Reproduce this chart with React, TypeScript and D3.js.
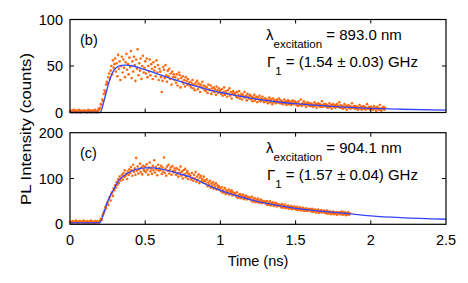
import React from "react";
import * as d3 from "d3";

// time grid of the measured traces (ns per bin)
const dt = 0.005;

// panel (b): measured counts, one value per bin starting at t = 0
const countsB = [
  1, 2, 1, 0, 2, 3, 1, 1, 2, 0, 1, 2, 3, 1, 0, 2, 1, 1, 2, 1,
  2, 1, 0, 1, 3, 2, 1, 2, 0, 1, 2, 1, 1, 3, 2, 0, 1, 2, 4, 3,
  5, 9, 8, 14, 12, 20, 24, 22, 30, 33, 31, 38, 42, 36, 45, 50, 41, 56, 48, 52,
  58, 44, 53, 39, 62, 47, 55, 35, 50, 60, 43, 57, 48, 38, 54, 63, 46, 52, 41, 59,
  49, 66, 37, 55, 44, 60, 51, 34, 57, 47, 68, 40, 53, 45, 58, 36, 50, 61, 43, 48,
  55, 42, 58, 38, 50, 44, 57, 40, 52, 47, 36, 54, 45, 49, 39, 56, 43, 51, 35, 47,
  44, 38, 22, 34, 49, 46, 37, 51, 40, 33, 45, 39, 47, 36, 42, 30, 44, 38, 41, 35,
  38, 32, 41, 29, 36, 43, 40, 27, 37, 33, 39, 31, 35, 28, 38, 34, 30, 36, 32, 29,
  33, 27, 31, 35, 26, 30, 24, 32, 29, 34, 25, 31, 28, 22, 30, 27, 33, 26, 29, 24,
  28, 23, 27, 21, 30, 25, 24, 29, 20, 26, 23, 27, 22, 25, 19, 28, 24, 21, 26, 23,
  24, 20, 25, 18, 22, 27, 19, 23, 21, 17, 24, 20, 26, 18, 22, 15, 21, 23, 19, 20,
  21, 17, 22, 16, 19, 23, 15, 18, 20, 14, 19, 17, 22, 16, 18, 13, 20, 17, 15, 19,
  18, 14, 17, 12, 16, 19, 13, 15, 17, 11, 16, 14, 18, 12, 15, 13, 17, 14, 11, 15,
  15, 12, 14, 10, 13, 16, 11, 14, 12, 9, 15, 11, 13, 12, 10, 14, 12, 11, 15, 10,
  13, 10, 12, 9, 11, 14, 10, 12, 8, 11, 13, 9, 12, 10, 8, 11, 13, 9, 10, 12,
  11, 8, 10, 7, 12, 9, 8, 14, 7, 10, 9, 12, 8, 10, 6, 9, 11, 8, 10, 7,
  10, 7, 9, 6, 8, 11, 7, 9, 5, 8, 10, 7, 9, 6, 8, 12, 6, 8, 9, 7,
  9, 6, 8, 5, 7, 10, 6, 8, 4, 7, 9, 6, 8, 5, 7, 9, 6, 7, 11, 5,
  8, 5, 7, 4, 6, 9, 5, 7, 3, 6, 8, 5, 7, 4, 6, 10, 5, 6, 7, 4,
  7, 4, 6, 3, 5, 8, 4, 6, 3, 5, 7, 4, 6, 3, 5, 9, 4, 5, 6, 3,
  6, 4, 5, 3, 7, 4, 5, 2, 6, 4, 5, 3, 8, 4, 2, 5, 4, 6, 3, 5,
];

// panel (c): measured counts
const countsC = [
  5, 4, 6, 3, 7, 5, 4, 6, 8, 5, 3, 6, 4, 7, 5, 6, 4, 5, 8, 3,
  6, 4, 5, 7, 3, 5, 6, 4, 8, 5, 4, 6, 3, 5, 7, 4, 6, 5, 4, 7,
  8, 12, 10, 18, 22, 26, 30, 38, 35, 44, 48, 42, 55, 60, 52, 66, 70, 62, 78, 74,
  85, 80, 92, 86, 98, 90, 104, 95, 100, 108, 97, 112, 103, 118, 106, 110, 99, 115, 108, 120,
  112, 125, 118, 106, 130, 115, 122, 108, 145, 117, 126, 111, 120, 132, 114, 124, 109, 128, 119, 116,
  126, 114, 131, 119, 108, 124, 135, 116, 122, 110, 128, 118, 140, 113, 125, 120, 107, 130, 117, 123,
  118, 128, 110, 124, 115, 146, 112, 121, 106, 126, 117, 130, 111, 119, 124, 108, 127, 116, 113, 122,
  117, 108, 122, 111, 104, 119, 113, 126, 106, 115, 100, 118, 109, 121, 103, 112, 116, 99, 110, 107,
  106, 98, 112, 101, 95, 108, 100, 114, 93, 104, 97, 109, 90, 102, 106, 95, 99, 92, 104, 96,
  94, 88, 98, 83, 91, 86, 95, 80, 89, 84, 92, 78, 87, 82, 90, 76, 85, 80, 83, 78,
  78, 72, 81, 69, 75, 70, 79, 66, 74, 71, 68, 76, 65, 72, 69, 74, 63, 70, 67, 66,
  67, 61, 70, 58, 64, 60, 66, 57, 63, 59, 65, 55, 61, 58, 62, 54, 60, 57, 59, 55,
  58, 52, 60, 49, 55, 51, 57, 48, 53, 50, 56, 47, 52, 49, 54, 46, 51, 48, 50, 47,
  49, 44, 51, 42, 47, 43, 50, 41, 46, 44, 48, 40, 45, 42, 47, 39, 44, 41, 43, 40,
  42, 37, 44, 36, 40, 38, 43, 35, 39, 37, 41, 34, 38, 36, 40, 33, 37, 35, 39, 34,
  37, 32, 38, 31, 35, 33, 37, 30, 34, 32, 36, 29, 33, 31, 35, 29, 32, 30, 34, 30,
  33, 28, 34, 27, 31, 29, 32, 26, 30, 28, 32, 25, 29, 27, 31, 26, 28, 27, 30, 25,
  29, 24, 30, 23, 27, 25, 28, 22, 26, 24, 28, 22, 25, 23, 27, 21, 25, 24, 26, 22,
  27, 22, 28, 21, 25, 23, 26, 20, 24, 22, 26, 21, 24,
];

const fitB: [number, number][] = [
  [0, 0], [0.2, 0], [0.23, 15], [0.26, 33], [0.29, 45], [0.32, 49.5], [0.37, 51],
  [0.42, 50], [0.5, 46], [0.6, 40.5], [0.7, 35], [0.8, 30], [0.9, 25.5], [1.0, 21.5],
  [1.1, 18.5], [1.2, 15.5], [1.3, 13], [1.4, 11], [1.5, 9.5], [1.6, 8.1], [1.7, 7],
  [1.8, 6], [1.9, 5.2], [2.0, 4.5], [2.2, 3.5], [2.5, 2.6],
];
const fitC: [number, number][] = [
  [0, 3], [0.19, 3], [0.2, 4], [0.22, 20], [0.25, 50], [0.29, 76], [0.33, 98],
  [0.38, 111], [0.43, 119], [0.5, 123], [0.55, 123], [0.6, 121], [0.7, 113],
  [0.8, 103], [0.9, 88], [1.0, 74], [1.1, 63], [1.2, 54], [1.3, 46], [1.4, 40],
  [1.5, 35], [1.6, 31], [1.7, 27.5], [1.8, 25], [2.0, 18.5], [2.2, 14.5], [2.5, 11],
];

const xTicks = [0, 0.5, 1, 1.5, 2, 2.5];
const yTicksB = [0, 50, 100];
const yTicksC = [0, 100, 200];

const font = "'Liberation Sans', Arial, Helvetica, sans-serif";
const dotColor = "#ff6a10";
const lineColor = "#3344ff";

const x = d3.scaleLinear().domain([0, 2.5]).range([70, 446]);

function Panel({ counts, fit, yMax, yTicks, top, bottom, tag, lambda, gamma }: any) {
  const y = d3.scaleLinear().domain([0, yMax]).range([bottom, top]);
  const line = d3
    .line<[number, number]>()
    .x((d) => x(d[0]))
    .y((d) => y(d[1]))
    .curve(d3.curveMonotoneX);
  const tk = 4;
  const inner = xTicks.slice(1, -1);
  const innerY = yTicks.slice(1, -1);
  return (
    <g>
      {counts.map((v: number, i: number) => (
        <circle key={i} cx={x(i * dt)} cy={y(v)} r={1.3} fill={dotColor} />
      ))}
      <path d={line(fit) || ""} fill="none" stroke={lineColor} strokeWidth={1.3} />
      <rect x={70} y={top} width={376} height={bottom - top} fill="none" stroke="#000" strokeWidth={1.2} />
      {inner.map((t) => (
        <g key={t}>
          <line x1={x(t)} x2={x(t)} y1={bottom} y2={bottom - tk} stroke="#000" />
          <line x1={x(t)} x2={x(t)} y1={top} y2={top + tk} stroke="#000" />
        </g>
      ))}
      {innerY.map((t: number) => (
        <g key={t}>
          <line x1={70} x2={70 + tk} y1={y(t)} y2={y(t)} stroke="#000" />
          <line x1={446} x2={446 - tk} y1={y(t)} y2={y(t)} stroke="#000" />
        </g>
      ))}
      {yTicks.map((t: number) => (
        <text key={t} x={63} y={y(t) + 5} textAnchor="end" fontSize={14.5}>
          {t}
        </text>
      ))}
      <text x={80} y={top + 25} fontSize={14.5}>
        {tag}
      </text>
      <text x={266} y={top + 20} fontSize={15}>
        λ
        <tspan dy={8} fontSize={11.5}>excitation</tspan>
        <tspan dy={-8}> = {lambda} nm</tspan>
      </text>
      <text x={267} y={top + 47} fontSize={15}>
        Γ
        <tspan dy={8} fontSize={11.5}>1</tspan>
        <tspan dy={-8}> = ({gamma}) GHz</tspan>
      </text>
    </g>
  );
}

export default function App() {
  return (
    <svg
      width={468}
      height={283}
      style={{ position: "absolute", left: 0, top: 0, background: "#fff" }}
      fontFamily={font}
    >
      <Panel counts={countsB} fit={fitB} yMax={100} yTicks={yTicksB} top={19.5} bottom={112.5}
        tag="(b)" lambda="893.0" gamma="1.54 ± 0.03" />
      <Panel counts={countsC} fit={fitC} yMax={200} yTicks={yTicksC} top={132.7} bottom={224.3}
        tag="(c)" lambda="904.1" gamma="1.57 ± 0.04" />
      {xTicks.map((t) => (
        <text key={t} x={x(t)} y={245} textAnchor="middle" fontSize={14.5}>
          {t}
        </text>
      ))}
      <text x={258} y={266} textAnchor="middle" fontSize={14.5}>
        Time (ns)
      </text>
      <text
        transform="translate(31,129) rotate(-90)"
        textAnchor="middle"
        fontSize={14.5}
        textLength={152}
        lengthAdjust="spacingAndGlyphs"
      >
        PL Intensity (counts)
      </text>
    </svg>
  );
}
